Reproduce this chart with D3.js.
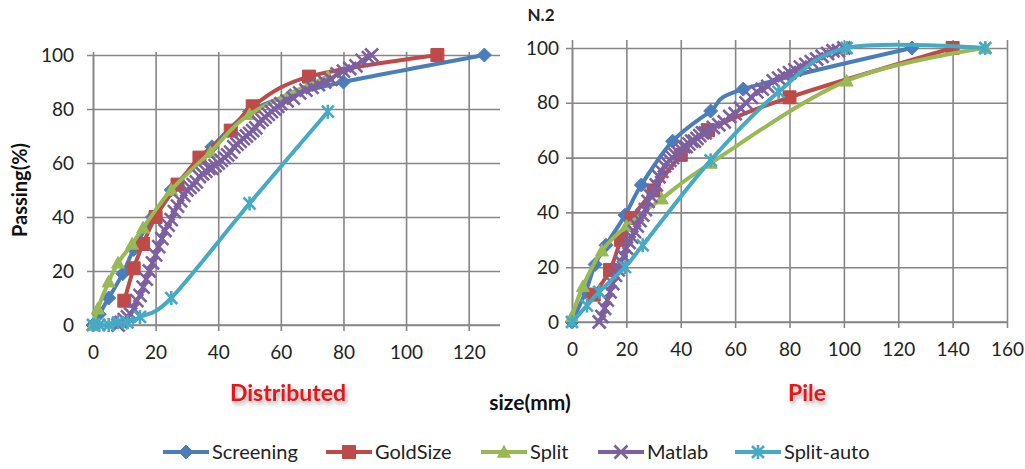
<!DOCTYPE html>
<html><head><meta charset="utf-8">
<script src="https://cdn.jsdelivr.net/npm/d3@7"></script>
<style>
html,body{margin:0;padding:0;background:#fff;}
svg{display:block;font-family:Lato, "Open Sans", sans-serif;}
</style></head>
<body>
<svg id="chart" width="1025" height="469"></svg>
<script>
// ---------- DATA ----------
const seriesNames = ["Screening","GoldSize","Split","Matlab","Split-auto"];
const xTicksLeft = [0,20,40,60,80,100,120];
const xTicksRight = [0,20,40,60,80,100,120,140,160];
const yTicks = [0,20,40,60,80,100];

// Distributed (left panel): [size mm, passing %]
const distScreening = [[0,0],[2,4],[5,10],[9.5,19],[13,28],[19,40],[25,50],[38,66],[50,79],[63,85],[80,90],[125,100]];
const distGoldSize = [[10,9],[13,21],[16,30],[20,40],[27,52],[34,62],[44,72],[51,81],[69,92],[110,100]];
const distSplit = [[0,0],[1.5,6],[5,16],[8,23],[12.5,30],[16,36],[25,50],[37.5,64],[50,78],[75,92]];
const distMatlab = [[8,0],[9,1],[10,2],[11,3],[12,4],[13,6],[14,9],[15,11],[16,14],[17,17],[18,20],[19,23],[20,26],[21,29],[22,32],[23,35],[24,37],[25,39],[26,42],[27,44],[28,46],[29,48],[30,50],[31,51],[32,52],[33,53],[34,55],[35,56],[36,57],[37,58],[38,58],[39,59],[40,60],[41,61],[42,62],[43,63],[44,64],[45,66],[46,67],[47,68],[48,69],[49,70],[50,71],[51,72],[52,73],[53,75],[54,76],[55,77],[56,78],[57,79],[58,80],[59,81],[60,82],[62,83],[64,84],[66,86],[68,87],[70,88],[72,89],[74,90],[76,91],[78,93],[80,94],[82,95],[84,96],[86,98],[88,99],[89,100]];
const distSplitAuto = [[0,0],[2,0],[5,0],[8,1],[11,1],[15,3],[25,10],[50,45],[75,79]];

// Pile (right panel)
const pileScreening = [[0,0],[5,11],[8.5,21],[12.5,28],[19.5,39],[25.5,50],[37,66],[51,77],[63,85],[125,100]];
const pileGoldSize = [[8,10],[14,19],[18,30],[22,38],[30,48],[40,61],[50,70],[80,82],[140,100]];
const pileSplit = [[0,2],[4,13],[11,26],[20,35],[33,45],[51,58],[101,88],[152,100]];
const pileMatlab = [[10,0],[11,2],[12,5],[13,8],[14,11],[15,14],[16,17],[17,19],[18,22],[19,24],[20,27],[21,29],[22,31],[23,33],[24,35],[25,37],[26,39],[27,41],[28,44],[29,46],[30,48],[31,50],[32,53],[33,55],[34,57],[35,58],[36,59],[37,60],[38,61],[39,62],[40,63],[41,64],[42,64],[43,65],[44,66],[45,66],[46,67],[47,68],[48,69],[49,69],[50,70],[52,71],[54,72],[56,73],[58,75],[60,76],[62,78],[64,80],[66,82],[68,84],[70,85],[72,86],[74,88],[76,89],[78,90],[80,91],[82,92],[84,93],[86,94],[88,95],[90,96],[92,97],[94,98],[96,99],[98,99],[100,100]];
const pileSplitAuto = [[0,0],[5.5,6],[10,11],[19.5,20],[26,28],[51,59],[76,84],[101,100],[152,100]];

const colors = ["#4A7EBB","#BE4B48","#98B954","#7D60A0","#46AAC5"];
const markers = ["diamond","square","triangle","x","star"];
const markerSizes = [14,13,13,13,12];

// ---------- DRAW ----------
const svg = d3.select("#chart");
const gridColor = "#868686";

function markerPath(type, s){
  const h = s/2;
  switch(type){
    case "diamond": return `M0,${-h}L${h},0L0,${h}L${-h},0Z`;
    case "square": return `M${-h},${-h}H${h}V${h}H${-h}Z`;
    case "triangle": return `M0,${-h}L${h},${h*0.8}L${-h},${h*0.8}Z`;
    case "x": return `M${-h},${-h}L${h},${h}M${-h},${h}L${h},${-h}`;
    case "star": return `M${-h},${-h}L${h},${h}M${-h},${h}L${h},${-h}M0,${-h-1}V${h+1}`;
  }
}

function panel(x, y, xTicks, ext, labelPad, data){
  const g = svg.append("g");
  const [x0,x1] = x.range(); const [y0,y1] = y.range();
  const ax = g.append("g").attr("transform",`translate(0,${y0})`)
    .call(d3.axisBottom(x).tickValues(xTicks).tickSizeInner(-(y0-y1+ext)).tickSizeOuter(0).tickPadding(21));
  ax.select(".domain").attr("stroke",gridColor).attr("stroke-width",1.6).attr("d",`M${x0},0H${x1}`);
  ax.selectAll(".tick line").attr("stroke",gridColor).attr("stroke-width",1.6).attr("y1",6);
  ax.selectAll(".tick text").attr("font-size",19).attr("fill","#222").attr("font-family","Lato");
  const ay = g.append("g").attr("transform",`translate(${x0},0)`)
    .call(d3.axisLeft(y).tickValues(yTicks).tickSizeInner(-(x1-x0)).tickSizeOuter(0).tickPadding(labelPad));
  ay.select(".domain").attr("stroke",gridColor).attr("stroke-width",1.6);
  ay.selectAll(".tick line").attr("stroke",gridColor).attr("stroke-width",1.6).attr("x1",-6);
  ay.selectAll(".tick text").attr("font-size",19).attr("fill","#222").attr("font-family","Lato");

  const line = d3.line().x(d=>x(d[0])).y(d=>y(d[1])).curve(d3.curveCardinal.tension(0));
  data.forEach((ser,i)=>{
    g.append("path").datum(ser).attr("d",line).attr("fill","none")
      .attr("stroke",colors[i]).attr("stroke-width",4).attr("stroke-linejoin","round");
    const filled = i<3;
    g.append("g").selectAll("path").data(ser).join("path")
      .attr("transform",d=>`translate(${x(d[0])},${y(d[1])})`)
      .attr("d",markerPath(markers[i], markerSizes[i]))
      .attr("fill",filled?colors[i]:"none")
      .attr("stroke",colors[i]).attr("stroke-width",filled?1:2.6);
  });
}

const xL = d3.scaleLinear([0,130],[93,500]);
const yL = d3.scaleLinear([0,100],[325,55]);
const xR = d3.scaleLinear([0,160],[572,1007]);
const yR = d3.scaleLinear([0,100],[322,48]);

panel(xL, yL, xTicksLeft, 3, 19, [distScreening,distGoldSize,distSplit,distMatlab,distSplitAuto]);
panel(xR, yR, xTicksRight, 8, 13, [pileScreening,pileGoldSize,pileSplit,pileMatlab,pileSplitAuto]);

// titles
svg.append("text").attr("x",541).attr("y",21).attr("text-anchor","middle")
  .attr("font-weight","bold").attr("font-size",17).attr("fill","#222").text("N.2");
svg.append("text").attr("transform","translate(27,190) rotate(-90)").attr("text-anchor","middle")
  .attr("font-weight","bold").attr("font-size",20).attr("fill","#111").text("Passing(%)");
svg.append("text").attr("x",530).attr("y",410).attr("text-anchor","middle")
  .attr("font-weight","bold").attr("font-size",21).attr("fill","#111").text("size(mm)");

const defs = svg.append("defs");
const f = defs.append("filter").attr("id","sh").attr("x","-20%").attr("y","-40%").attr("width","140%").attr("height","180%");
f.append("feDropShadow").attr("dx",2).attr("dy",3).attr("stdDeviation",2).attr("flood-color","#000").attr("flood-opacity",0.35);
svg.append("text").attr("x",288).attr("y",401).attr("text-anchor","middle").attr("filter","url(#sh)")
  .attr("font-weight","bold").attr("font-size",23).attr("fill","#E3161B").text("Distributed");
svg.append("text").attr("x",807).attr("y",401).attr("text-anchor","middle").attr("filter","url(#sh)")
  .attr("font-weight","bold").attr("font-size",23).attr("fill","#E3161B").text("Pile");

// legend
const legX = [163,326,481,598,735];
const lg = svg.append("g");
seriesNames.forEach((n,i)=>{
  const g = lg.append("g").attr("transform",`translate(${legX[i]},452)`);
  g.append("line").attr("x1",0).attr("x2",46).attr("stroke",colors[i]).attr("stroke-width",4);
  g.append("path").attr("transform","translate(23,0)").attr("d",markerPath(markers[i], markerSizes[i]))
    .attr("fill",i<3?colors[i]:"none").attr("stroke",colors[i]).attr("stroke-width",i<3?1:2.6);
  g.append("text").attr("x",49).attr("dy","0.35em").attr("font-size",20).attr("fill","#222").text(n);
});
</script>
</body></html>
